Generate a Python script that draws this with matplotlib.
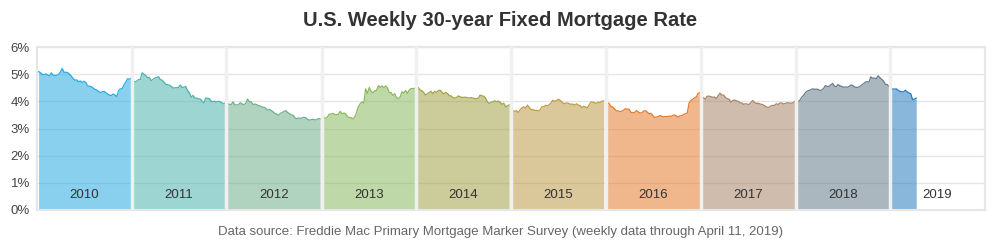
import matplotlib
matplotlib.use("Agg")
import matplotlib.pyplot as plt
import pandas as pd

plt.rcParams["font.family"] = ["Liberation Sans", "DejaVu Sans"]

# weekly 30-year fixed rates (%)
rate_2010 = [5.09, 5.06, 4.99, 4.98, 5.01, 4.97, 4.93, 5.05, 4.97, 4.95, 4.96, 4.99,
             5.08, 5.21, 5.07, 5.07, 5.06, 5.00, 4.93, 4.84, 4.78, 4.79, 4.72, 4.75,
             4.69, 4.74, 4.69, 4.57, 4.56, 4.54, 4.49, 4.44, 4.42, 4.36, 4.32, 4.35,
             4.37, 4.32, 4.27, 4.23, 4.21, 4.27, 4.24, 4.17, 4.39, 4.46, 4.46, 4.61,
             4.71, 4.83, 4.81, 4.86]
rate_2011 = [4.77, 4.71, 4.74, 4.80, 4.81, 5.05, 5.00, 4.95, 4.87, 4.88, 4.76, 4.81,
             4.86, 4.87, 4.91, 4.80, 4.78, 4.71, 4.63, 4.61, 4.60, 4.55, 4.49, 4.50,
             4.50, 4.51, 4.60, 4.51, 4.52, 4.55, 4.39, 4.32, 4.15, 4.22, 4.12, 4.12,
             4.09, 4.09, 4.01, 3.94, 4.12, 4.11, 4.10, 4.00, 3.99, 4.00, 3.98, 4.00,
             3.99, 3.94, 3.91, 3.95]
rate_2012 = [3.91, 3.89, 3.88, 3.98, 3.87, 3.87, 3.87, 3.95, 3.90, 3.88, 3.92, 4.08,
             3.99, 3.98, 3.88, 3.90, 3.88, 3.84, 3.83, 3.79, 3.78, 3.75, 3.67, 3.71,
             3.66, 3.62, 3.56, 3.53, 3.49, 3.55, 3.59, 3.62, 3.66, 3.59, 3.55, 3.50,
             3.49, 3.40, 3.36, 3.39, 3.37, 3.39, 3.41, 3.40, 3.34, 3.31, 3.32, 3.34,
             3.32, 3.32, 3.37, 3.35]
rate_2013 = [3.34, 3.40, 3.38, 3.42, 3.53, 3.53, 3.56, 3.51, 3.51, 3.52, 3.63, 3.54,
             3.57, 3.54, 3.43, 3.41, 3.40, 3.35, 3.42, 3.59, 3.81, 3.91, 3.98, 3.93,
             4.46, 4.29, 4.51, 4.37, 4.31, 4.39, 4.40, 4.58, 4.51, 4.57, 4.50, 4.57,
             4.50, 4.32, 4.32, 4.22, 4.28, 4.13, 4.10, 4.16, 4.35, 4.31, 4.40, 4.29,
             4.42, 4.47, 4.47, 4.48]
rate_2014 = [4.53, 4.51, 4.41, 4.39, 4.32, 4.23, 4.28, 4.33, 4.37, 4.28, 4.37, 4.32,
             4.40, 4.41, 4.34, 4.27, 4.33, 4.29, 4.21, 4.20, 4.14, 4.12, 4.14, 4.20,
             4.17, 4.14, 4.15, 4.15, 4.13, 4.12, 4.14, 4.12, 4.10, 4.10, 4.12, 4.23,
             4.20, 4.19, 4.12, 3.98, 3.92, 3.97, 3.98, 4.02, 3.98, 4.01, 3.97, 3.89,
             3.93, 3.80, 3.83, 3.87]
rate_2015 = [3.73, 3.66, 3.63, 3.66, 3.59, 3.69, 3.76, 3.80, 3.75, 3.86, 3.78, 3.69,
             3.70, 3.66, 3.67, 3.65, 3.68, 3.80, 3.80, 3.85, 3.84, 3.87, 3.94, 4.04,
             4.00, 4.02, 4.08, 4.04, 3.98, 3.91, 3.93, 3.94, 3.91, 3.89, 3.90, 3.86,
             3.91, 3.86, 3.85, 3.76, 3.82, 3.79, 3.76, 3.87, 3.98, 3.97, 3.95, 3.93,
             3.97, 3.95, 4.01, 4.01]
rate_2016 = [3.97, 3.92, 3.81, 3.79, 3.72, 3.65, 3.65, 3.62, 3.64, 3.68, 3.73, 3.71,
             3.71, 3.59, 3.58, 3.59, 3.66, 3.61, 3.57, 3.58, 3.64, 3.66, 3.60, 3.54,
             3.56, 3.48, 3.41, 3.42, 3.44, 3.48, 3.45, 3.43, 3.44, 3.43, 3.46, 3.44,
             3.48, 3.50, 3.46, 3.42, 3.47, 3.47, 3.52, 3.54, 3.57, 3.94, 4.03, 4.08,
             4.13, 4.16, 4.30, 4.32]
rate_2017 = [4.20, 4.12, 4.09, 4.19, 4.19, 4.17, 4.15, 4.16, 4.10, 4.21, 4.30, 4.23,
             4.23, 4.14, 4.10, 4.08, 3.97, 4.03, 4.05, 4.02, 4.00, 3.95, 3.94, 3.89,
             3.91, 3.90, 3.88, 3.96, 4.03, 3.96, 3.92, 3.93, 3.90, 3.89, 3.86, 3.82,
             3.78, 3.78, 3.83, 3.85, 3.85, 3.91, 3.88, 3.94, 3.94, 3.90, 3.92, 3.95,
             3.94, 3.93, 3.94, 3.99]
rate_2018 = [3.95, 3.99, 4.04, 4.15, 4.22, 4.32, 4.38, 4.40, 4.43, 4.46, 4.44, 4.45,
             4.44, 4.40, 4.42, 4.47, 4.58, 4.55, 4.55, 4.61, 4.66, 4.56, 4.54, 4.62,
             4.57, 4.55, 4.52, 4.53, 4.52, 4.54, 4.60, 4.59, 4.53, 4.51, 4.52, 4.54,
             4.60, 4.65, 4.71, 4.72, 4.71, 4.90, 4.85, 4.86, 4.83, 4.94, 4.87, 4.81,
             4.75, 4.63, 4.62, 4.55]
rate_2019 = [4.51, 4.45, 4.45, 4.46, 4.41, 4.37, 4.35, 4.35, 4.41, 4.35, 4.31, 4.28,
             4.06, 4.08, 4.12]

years = list(range(2010, 2020))
rates = [rate_2010, rate_2011, rate_2012, rate_2013, rate_2014,
         rate_2015, rate_2016, rate_2017, rate_2018, rate_2019]
colors = ["#29abe2", "#4cb4ad", "#6faf8c", "#8ab960", "#a2a247",
          "#bf9b47", "#e37d2d", "#a98568", "#647d8c", "#267dbf"]
yticks = [0, 1, 2, 3, 4, 5, 6]

fig = plt.figure(figsize=(10, 2.5), dpi=100)
ax = fig.add_axes([0.037, 0.16, 0.948, 0.652])

for yr, vals, c in zip(years, rates, colors):
    dates = pd.date_range(f"{yr}-01-01", periods=len(vals), freq="W-THU")
    ax.fill_between(dates, 0, vals, color=c, alpha=0.55, linewidth=0, zorder=2)
    ax.plot(dates, vals, color=c, linewidth=0.9, zorder=3)
    ax.text(pd.Timestamp(f"{yr}-07-02"), 0.55, str(yr), ha="center",
            va="center", fontsize=9.5, color="#333333", zorder=5)

# year separators
for yr in years[1:]:
    ax.axvline(pd.Timestamp(f"{yr}-01-01"), color="#f0f0f0", linewidth=2.5,
               zorder=4)

ax.set_xlim(pd.Timestamp("2010-01-01"), pd.Timestamp("2020-01-01"))
ax.set_ylim(0, 6)
ax.set_yticks(yticks)
ax.set_yticklabels([f"{t}%" for t in yticks], fontsize=9.5, color="#444444")
ax.set_xticks([])
ax.grid(axis="y", color="#e6e6e6", linewidth=1, zorder=1)
ax.set_axisbelow(True)
ax.tick_params(axis="y", length=0, pad=5)
for sp in ax.spines.values():
    sp.set_color("#e6e6e6")
    sp.set_linewidth(1.5)

fig.text(0.5, 0.92, "U.S. Weekly 30-year Fixed Mortgage Rate", ha="center",
         va="center", fontsize=14.5, fontweight="bold", color="#333333")
fig.text(0.5, 0.072, "Data source: Freddie Mac Primary Mortgage Marker Survey "
         "(weekly data through April 11, 2019)", ha="center", va="center",
         fontsize=9.5, color="#666666")

fig.savefig("out.png", dpi=100, facecolor="white")
